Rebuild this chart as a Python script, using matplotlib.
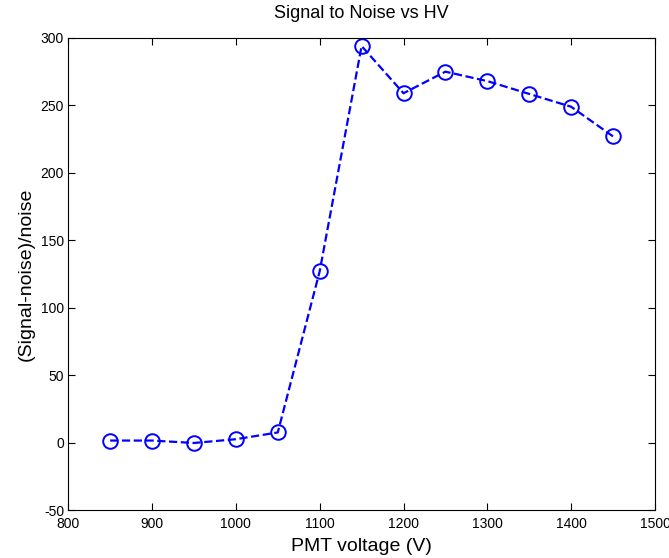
import numpy as np
from matplotlib import pyplot as plt

plt.rcParams['font.family'] = ['Liberation Sans', 'DejaVu Sans']
plt.rcParams['axes.unicode_minus'] = False

# Dane
napiecie = [850, 900, 950, 1000, 1050, 1100, 1150, 1200, 1250, 1300, 1350, 1400, 1450]
sn = [1.5, 1.5, -0.3, 2.5, 7.5, 127, 294, 259, 275, 268, 258.5, 249, 227]

fig = plt.figure(figsize=(6.69, 5.58), dpi=100)
ax = fig.add_axes([0.102, 0.086, 0.877, 0.846])

# Wykres
ax.plot(napiecie, sn, color='blue', linestyle='--', linewidth=1.6,
        marker='o', markersize=10.5, markerfacecolor='none', markeredgewidth=1.4)

ax.set_xlim(800, 1500)
ax.set_ylim(-50, 300)
ax.set_xticks(np.arange(800, 1501, 100))
ax.set_yticks(np.arange(-50, 301, 50))
ax.tick_params(direction='in', top=True, right=True, labelsize=10, length=5)
ax.tick_params(axis='x', pad=5)
ax.tick_params(axis='y', pad=3)
for s in ax.spines.values():
    s.set_linewidth(0.8)

# Etykiety osi
ax.set_xlabel("PMT voltage (V)", fontsize=14, labelpad=5)
ax.set_ylabel("(Signal-noise)/noise", fontsize=14, labelpad=4)

# Tytuł wykresu
ax.set_title("Signal to Noise vs HV", fontsize=13, pad=14)

fig.savefig("out.png", dpi=100)
